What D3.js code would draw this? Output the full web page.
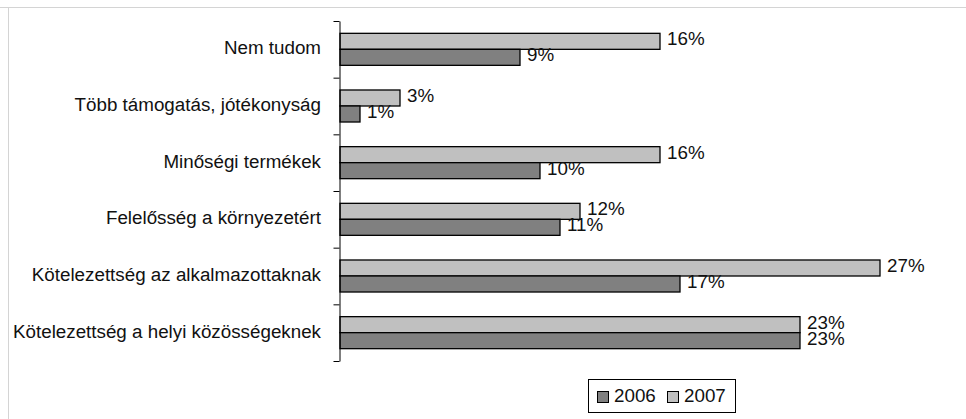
<!DOCTYPE html>
<html><head><meta charset="utf-8">
<script src="https://cdn.jsdelivr.net/npm/d3@7"></script>
<style>body{margin:0;background:#fff}svg{display:block}</style>
</head><body><svg id="c" width="966" height="419"></svg>
<script>
const categories = ["Nem tudom","Több támogatás, jótékonyság","Minőségi termékek","Felelősség a környezetért","Kötelezettség az alkalmazottaknak","Kötelezettség a helyi közösségeknek"];
const series = ["2007","2006"];
const values2006 = [9,1,10,11,17,23];
const values2007 = [16,3,16,12,27,23];
const legendOrder = ["2006","2007"];
const colors = {"2006":"#808080","2007":"#c0c0c0"};

const svg = d3.select("#c");
const font = "'Liberation Sans', Arial, sans-serif";
const fs = 18.8;
const txt = "#111";
// frame
svg.append("line").attr("x1",0).attr("x2",966).attr("y1",7.5).attr("y2",7.5).attr("stroke","#d4d4d4");
svg.append("line").attr("x1",8.5).attr("x2",8.5).attr("y1",7).attr("y2",419).attr("stroke","#d4d4d4");

const plotTop=21, plotBottom=361, plotLeft=340;
const x = d3.scaleLinear().domain([0,30]).range([plotLeft, plotLeft+600]);
const y = d3.scaleBand().domain(categories).range([plotTop,plotBottom]).paddingInner(0).paddingOuter(0);
const yi = d3.scaleBand().domain(series).range([0,y.bandwidth()]).paddingInner(0).paddingOuter(0.77);
const yl = d3.scaleLinear().domain([0,categories.length]).range([plotTop,plotBottom]);

const data = [];
categories.forEach((c,i)=>{
  data.push({c, s:"2007", v:values2007[i]});
  data.push({c, s:"2006", v:values2006[i]});
});

const g = svg.append("g");
g.selectAll("rect.bar").data(data).join("rect")
  .attr("x", x(0)).attr("y", d=>y(d.c)+yi(d.s))
  .attr("width", d=>x(d.v)-x(0)).attr("height", yi.bandwidth())
  .attr("fill", d=>colors[d.s]).attr("stroke","#000").attr("stroke-width",1.3);

g.selectAll("text.val").data(data).join("text")
  .attr("x", d=>x(d.v)+7).attr("y", d=>y(d.c)+yi(d.s)+yi.bandwidth()/2-2.5)
  .attr("dy","0.35em").attr("font-family",font).attr("font-size",fs).attr("fill",txt)
  .text(d=>d.v+"%");

const ax = svg.append("g").attr("transform",`translate(${plotLeft-0.5},0)`)
  .call(d3.axisLeft(yl).tickValues(d3.range(categories.length+1)).tickFormat("").tickSize(6).tickSizeOuter(0));
ax.selectAll("path,line").attr("stroke","#000");

svg.selectAll("text.cat").data(categories).join("text")
  .attr("x", 321).attr("y", d=>y(d)+y.bandwidth()/2-1.5).attr("dy","0.35em")
  .attr("text-anchor","end").attr("font-family",font).attr("font-size",fs).attr("fill",txt)
  .text(d=>d);

// legend
const lg = svg.append("g");
lg.append("rect").attr("x",588.5).attr("y",379.5).attr("width",147).attr("height",33).attr("fill","#fff").attr("stroke","#000");
legendOrder.forEach((s,i)=>{
  const lx = 597 + i*70;
  lg.append("rect").attr("x",lx+0.5).attr("y",391.5).attr("width",11).attr("height",11).attr("fill",colors[s]).attr("stroke","#000");
  lg.append("text").attr("x",lx+17).attr("y",395).attr("dy","0.35em").attr("font-family",font).attr("font-size",fs).attr("fill",txt).text(s);
});
</script></body></html>
